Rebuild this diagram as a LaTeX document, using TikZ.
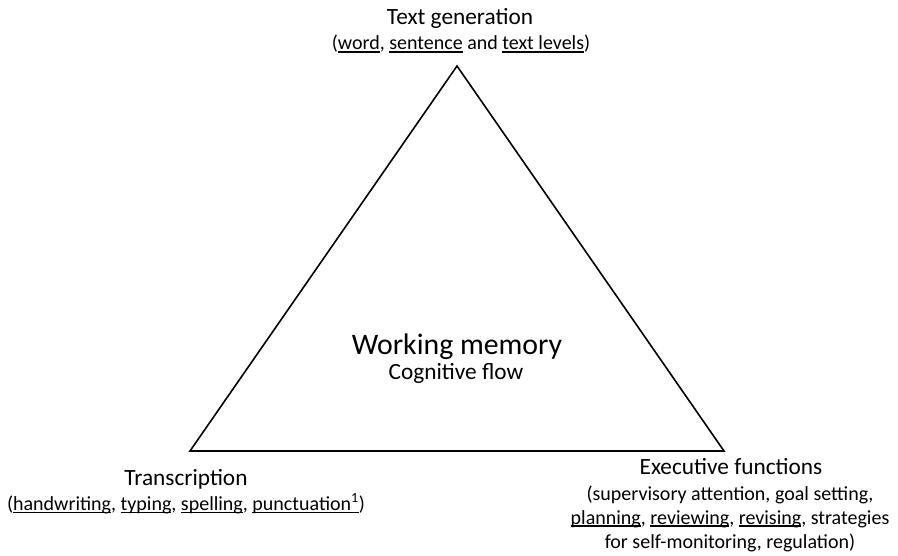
\documentclass[tikz,border=0pt]{standalone}
\usepackage{fontspec}
\setmainfont{Carlito}
\newcommand\uln[1]{\setbox0\hbox{#1}\rlap{\rule[-0.13em]{\wd0}{0.065em}}\box0\relax}
\begin{document}
\begin{tikzpicture}[x=1pt,y=-1pt,
  title/.style={anchor=base,inner sep=0pt,font={\fontsize{23.3}{27}\selectfont}},
  detail/.style={anchor=base,inner sep=0pt,align=center,font={\fontsize{20}{24}\selectfont}},
  big/.style={anchor=base,inner sep=0pt,font={\fontsize{29.8}{34}\selectfont}},
  tri/.style={draw=black,line width=1.6pt,line join=miter}]
\useasboundingbox (0,0) rectangle (898,556);
\coordinate (T) at (457,66);
\coordinate (L) at (190,451);
\coordinate (R) at (724,451);
\draw[tri] (T) -- (L) -- (R) -- cycle;
\node[title] (tg) at (460,25) {Text generation};
\node[detail] (tgd) at (461,50) {(\uln{word}, \uln{sentence} and \uln{text levels})};
\node[big] (wm) at (457,355) {Working memory};
\node[title] (cf) at (456,380) {Cognitive flow};
\node[title] (tr) at (186,485) {Transcription};
\node[detail] (trd) at (186,510.5) {(\uln{handwriting}, \uln{typing}, \uln{spelling}, \uln{punctuation\textsuperscript{1}})};
\node[title] (ef) at (731,475) {Executive functions};
\node[detail] (efd) at (730,548) {(supervisory attention, goal setting,\\ \uln{planning}, \uln{reviewing}, \uln{revising}, strategies\\ for self-monitoring, regulation)};
\end{tikzpicture}
\end{document}
